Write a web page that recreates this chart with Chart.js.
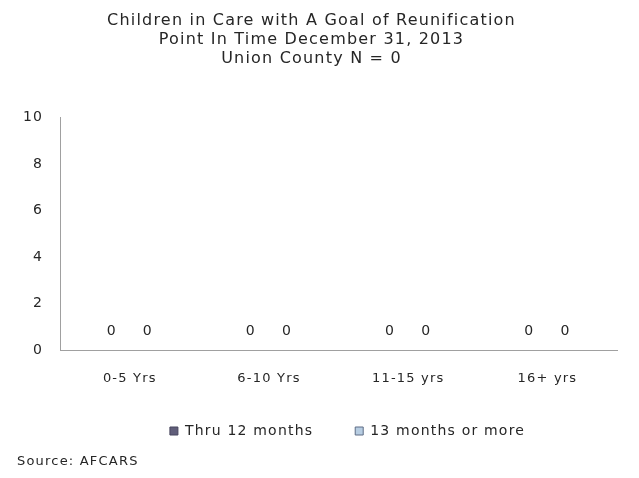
<!DOCTYPE html>
<html>
<head>
<meta charset="utf-8">
<script src="https://cdn.jsdelivr.net/npm/chart.js@4/dist/chart.umd.min.js"></script>
<style>
  html, body { margin: 0; padding: 0; background: #fff; }
  #wrap { width: 639px; height: 478px; }
</style>
</head>
<body>
<div id="wrap"><canvas id="reunifChart" width="639" height="478"></canvas></div>
<script>
var categories = ["0-5 Yrs", "6-10 Yrs", "11-15 yrs", "16+ yrs"];
var thru12 = [0, 0, 0, 0];
var over13 = [0, 0, 0, 0];
var yTicks = [0, 2, 4, 6, 8, 10];
var titleLines = ["Children in Care with A Goal of Reunification", "Point In Time December 31, 2013", "Union County N = 0"];
var sourceNote = "Source: AFCARS";

var FONT = "'DejaVu Sans', Verdana, sans-serif";
var SPACING = '1.2px';

// wide lettering like the original, set before layout measures text
var spacingPlugin = {
    id: 'spacing',
    beforeUpdate: function (chart) { chart.ctx.letterSpacing = SPACING; },
    beforeDraw: function (chart) { chart.ctx.letterSpacing = SPACING; }
};

// legend sits a bit higher and right of where chart.js centres it
var legendNudge = {
    id: 'legendNudge',
    afterLayout: function (chart) {
        var lg = chart.legend;
        lg.top -= 24; lg.bottom -= 24;
        lg.left += 36; lg.right += 36;
    }
};

// the "0" labels above each bar, plus the source note
var labelPlugin = {
    id: 'valueLabels',
    afterDatasetsDraw: function (chart) {
        var c = chart.ctx;
        c.save();
        c.letterSpacing = SPACING;
        c.fillStyle = '#262626';
        c.textBaseline = 'middle';
        c.font = "14px " + FONT;
        c.textAlign = 'center';
        chart.data.datasets.forEach(function (ds, i) {
            chart.getDatasetMeta(i).data.forEach(function (bar, j) {
                c.fillText(String(ds.data[j]), bar.x, bar.y - 19);
            });
        });
        c.font = "13px " + FONT;
        c.textAlign = 'left';
        c.fillText(sourceNote, 17, 462);
        c.restore();
    }
};

var ctx = document.getElementById('reunifChart').getContext('2d');
var chart = new Chart(ctx, {
    type: 'bar',
    data: {
        labels: categories,
        datasets: [{
            label: "Thru 12 months",
            backgroundColor: '#605e7a',
            borderColor: '#47465e',
            borderWidth: 1,
            data: thru12
        }, {
            label: "13 months or more",
            backgroundColor: '#b7cde2',
            borderColor: '#5e6d86',
            borderWidth: 1,
            data: over13
        }]
    },
    options: {
        responsive: false,
        animation: false,
        layout: { padding: { left: 6, right: 22, top: 7, bottom: 6 } },
        datasets: { bar: { categoryPercentage: 0.52, barPercentage: 1 } },
        scales: {
            x: {
                grid: { display: false, drawTicks: false },
                border: { display: true, color: '#a0a0a0', width: 1 },
                ticks: { color: '#262626', font: { family: FONT, size: 13 }, padding: 20 }
            },
            y: {
                min: 0,
                max: 10,
                afterBuildTicks: function (axis) {
                    axis.ticks = yTicks.map(function (v) { return { value: v }; });
                },
                grid: { display: false, drawTicks: false },
                border: { display: true, color: '#a0a0a0', width: 1 },
                ticks: { color: '#262626', font: { family: FONT, size: 14 }, padding: 17 }
            }
        },
        plugins: {
            title: {
                display: true,
                text: titleLines,
                color: '#262626',
                font: { family: FONT, size: 16, weight: 'normal', lineHeight: 1.2 },
                padding: { top: 4, bottom: 49 }
            },
            legend: {
                position: 'bottom',
                labels: {
                    boxWidth: 8,
                    boxHeight: 8,
                    padding: 42,
                    color: '#262626',
                    font: { family: FONT, size: 14 }
                }
            },
            tooltip: { enabled: false }
        }
    },
    plugins: [spacingPlugin, legendNudge, labelPlugin]
});
</script>
</body>
</html>
